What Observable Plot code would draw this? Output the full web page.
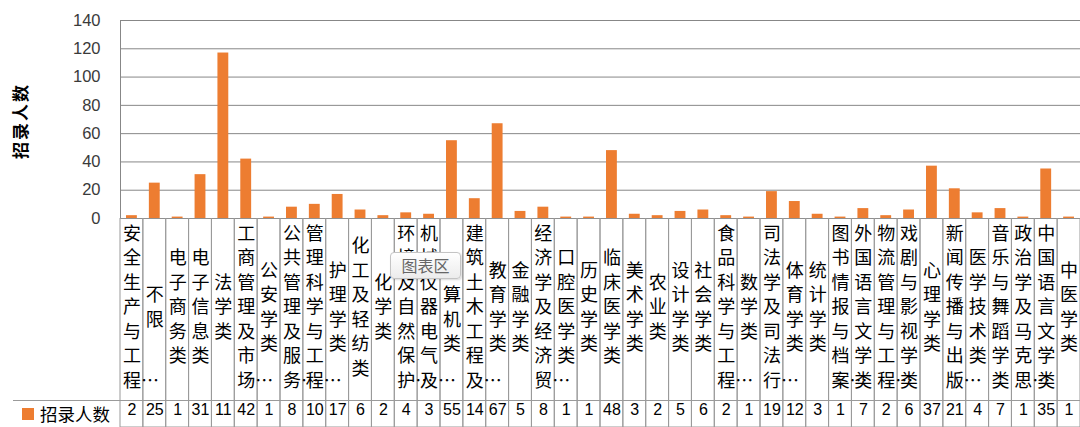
<!DOCTYPE html>
<html><head><meta charset="utf-8">
<script src="https://cdn.jsdelivr.net/npm/d3@7"></script>
<script src="https://cdn.jsdelivr.net/npm/@observablehq/plot@0.6"></script>
<style>
html,body{margin:0;padding:0;background:#fff;overflow:hidden;width:1080px;height:427px}
#wrap{position:relative;width:1080px;height:427px;font-family:"Noto Sans CJK SC",sans-serif}
#wrap svg{position:absolute;left:0}
#ytitle{position:absolute;left:-30px;top:109px;width:100px;height:24px;line-height:24px;text-align:center;font-size:17px;font-weight:bold;letter-spacing:2px;color:#000;transform:rotate(-90deg);}
#sep{position:absolute;left:13px;top:400px;width:1067px;height:0;border-top:1px solid #9a9a9a}
#legend{position:absolute;left:22px;top:401px;height:26px;line-height:26px;font-size:17.5px;color:#000;display:flex;align-items:center}
#legend span.sw{display:inline-block;width:12px;height:12px;background:#ED7D31;margin-right:6px}
#tip{position:absolute;left:390px;top:252px;width:69px;height:25px;border:1px solid #c4c4c4;border-radius:4px;background:linear-gradient(#ffffff,#ececec);box-shadow:1px 1px 2px rgba(0,0,0,0.15);font-size:16px;line-height:25px;text-align:center;color:#666}
</style></head><body><div id="wrap"></div>
<script>
const categories = ["安全生产与工程…","不限","电子商务类","电子信息类","法学类","工商管理及市场…","公安学类","公共管理及服务…","管理科学与工程…","护理学类","化工及轻纺类","化学类","环境及自然保护…","机械仪器电气及…","计算机类","建筑土木工程及…","教育学类","金融学类","经济学及经济贸…","口腔医学类","历史学类","临床医学类","美术学类","农业类","设计学类","社会学类","食品科学与工程…","数学类","司法学及司法行…","体育学类","统计学类","图书情报与档案…","外国语言文学类","物流管理与工程…","戏剧与影视学类","心理学类","新闻传播与出版…","医学技术类","音乐与舞蹈学类","政治学及马克思…","中国语言文学类","中医学类"];
const values = [2,25,1,31,117,42,1,8,10,17,6,2,4,3,55,14,67,5,8,1,1,48,3,2,5,6,2,1,19,12,3,1,7,2,6,37,21,4,7,1,35,1];
const yTicks = [0,20,40,60,80,100,120,140];
const seriesName = "招录人数";

const W = 1080, L = 120;
const step = (W - L) / categories.length;
const rows = categories.map((c, i) => ({c, v: values[i], i}));

function vertical(label) {
  const ch = Array.from(label);
  if (ch[ch.length - 1] === "…") { const e = ch.pop(); ch[ch.length - 1] += e; }
  return ch.join("\n");
}

const chart = Plot.plot({
  width: W, height: 228, marginLeft: L, marginRight: 0, marginTop: 20, marginBottom: 10,
  style: {background: "transparent", fontFamily: "Liberation Sans, Noto Sans CJK SC, sans-serif", overflow: "visible"},
  x: {type: "band", domain: categories, padding: 0, axis: null, label: null},
  y: {domain: [0, 140], axis: null, label: null},
  marks: [
    Plot.gridY(yTicks, {stroke: "#878787", strokeOpacity: 1}),
    Plot.axisY(yTicks, {tickSize: 0, tickPadding: 20, fontSize: 16.5, fill: "#3a3a3a", tickFormat: d => String(d), label: null}),
    Plot.ruleX([categories[0]], {dx: -step / 2, stroke: "#878787"}),
    Plot.barY(rows, {x: "c", y: "v", fill: "#ED7D31", insetLeft: 6, insetRight: 6})
  ]
});
chart.style.top = "0px";

const table = Plot.plot({
  width: W, height: 209, marginLeft: L, marginRight: 0, marginTop: 0, marginBottom: 0,
  style: {background: "transparent", fontFamily: "Liberation Sans, Noto Sans CJK SC, sans-serif"},
  x: {type: "band", domain: categories, padding: 0, axis: null, label: null},
  marks: [
    Plot.cell(rows, {x: "c", fill: "none", stroke: "#9a9a9a", inset: 0}),
    Plot.text(rows, {x: "c", text: d => vertical(d.c), frameAnchor: "top", dy: 87, lineAnchor: "middle", lineHeight: 1.36, fontSize: 18, textAnchor: "start", dx: -9, fill: "#000", fontFamily: "Noto Sans CJK SC"}),
    Plot.text(rows, {x: "c", text: d => String(d.v).slice(0, 2), frameAnchor: "bottom", dy: -13, fontSize: 16, fill: "#000"})
  ]
});
table.style.top = "218px";

const wrap = document.getElementById("wrap");
wrap.append(chart, table);
wrap.insertAdjacentHTML("beforeend",
  `<div id="ytitle">${seriesName}</div><div id="sep"></div>` +
  `<div id="legend"><span class="sw"></span>${seriesName}</div>` +
  `<div id="tip">图表区</div>`);
</script></body></html>
